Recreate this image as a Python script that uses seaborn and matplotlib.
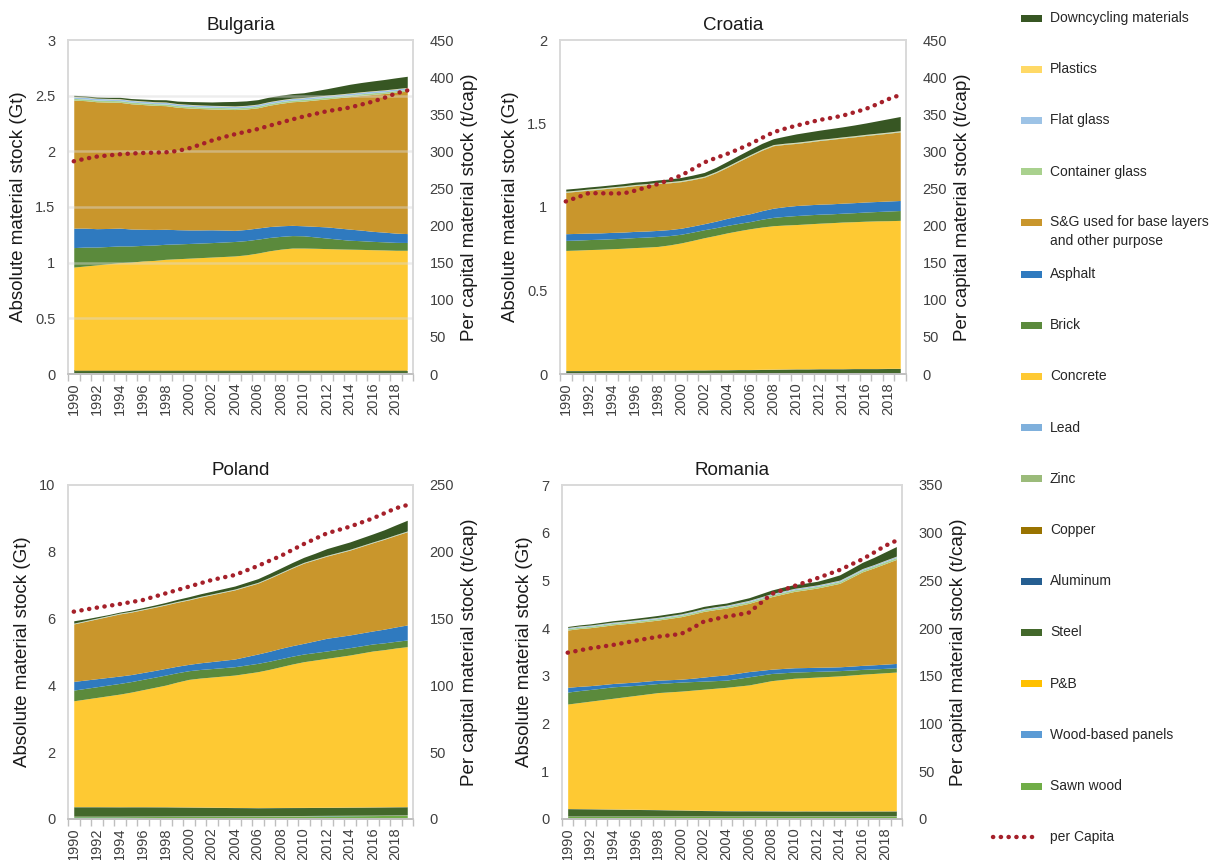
import numpy as np
import pandas as pd
import matplotlib
matplotlib.use("Agg")
import matplotlib.pyplot as plt
from matplotlib.patches import Rectangle
from matplotlib.lines import Line2D
import seaborn as sns

years = list(range(1990, 2020))
year_ticks = list(range(1990, 2020, 2))

layer_names = ["Sawn wood", "Wood-based panels", "P&B", "Steel", "Aluminum", "Copper",
               "Zinc", "Lead", "Concrete", "Brick", "Asphalt",
               "S&G used for base layers\nand other purpose", "Container glass",
               "Flat glass", "Plastics", "Downcycling materials"]
layer_colors = ["#70ad47", "#5b9bd5", "#ffc000", "#43682b", "#255e91", "#997300",
                "#9bbb7a", "#7fb0dc", "#fec933", "#5b8a3c", "#2f7abf",
                "#c9962c", "#a9d18e", "#9dc3e6", "#ffd966", "#375623"]
percap_color = "#a5202a"

# ---------------- Bulgaria (Gt) ----------------
bg_sawn = [0.008,0.008,0.008,0.008,0.008,0.008,0.008,0.008,0.008,0.008,0.008,0.008,0.008,0.008,0.008,0.008,0.009,0.009,0.009,0.009,0.009,0.009,0.009,0.009,0.009,0.009,0.009,0.009,0.009,0.009]
bg_panels = [0.003,0.003,0.003,0.003,0.003,0.003,0.003,0.003,0.003,0.003,0.003,0.003,0.003,0.003,0.003,0.003,0.003,0.003,0.003,0.003,0.003,0.003,0.003,0.003,0.003,0.003,0.003,0.003,0.003,0.003]
bg_pb = [0.002,0.002,0.002,0.002,0.002,0.002,0.002,0.002,0.002,0.002,0.002,0.002,0.002,0.002,0.002,0.002,0.002,0.002,0.002,0.002,0.002,0.002,0.002,0.002,0.002,0.002,0.002,0.002,0.002,0.002]
bg_steel = [0.018,0.018,0.018,0.018,0.018,0.018,0.018,0.018,0.018,0.018,0.018,0.018,0.018,0.018,0.018,0.018,0.017,0.017,0.017,0.017,0.017,0.017,0.017,0.017,0.017,0.017,0.017,0.017,0.017,0.017]
bg_alu = [0.001,0.001,0.001,0.001,0.001,0.001,0.001,0.001,0.001,0.001,0.001,0.001,0.001,0.001,0.001,0.001,0.001,0.001,0.001,0.001,0.001,0.001,0.001,0.001,0.001,0.001,0.001,0.001,0.001,0.001]
bg_copper = [0.0007,0.0007,0.0007,0.0007,0.0007,0.0007,0.0007,0.0007,0.0007,0.0007,0.0007,0.0007,0.0007,0.0007,0.0007,0.0007,0.0007,0.0007,0.0007,0.0007,0.0007,0.0007,0.0007,0.0007,0.0007,0.0007,0.0007,0.0007,0.0007,0.0007]
bg_zinc = [0.0003,0.0003,0.0003,0.0003,0.0003,0.0003,0.0003,0.0003,0.0003,0.0003,0.0003,0.0003,0.0003,0.0003,0.0003,0.0003,0.0003,0.0003,0.0003,0.0003,0.0003,0.0003,0.0003,0.0003,0.0003,0.0003,0.0003,0.0003,0.0003,0.0003]
bg_lead = [0.0003,0.0003,0.0003,0.0003,0.0003,0.0003,0.0003,0.0003,0.0003,0.0003,0.0003,0.0003,0.0003,0.0003,0.0003,0.0003,0.0003,0.0003,0.0003,0.0003,0.0003,0.0003,0.0003,0.0003,0.0003,0.0003,0.0003,0.0003,0.0003,0.0003]
bg_concrete = [0.927,0.937,0.947,0.957,0.967,0.972,0.982,0.987,0.997,1.002,1.007,1.012,1.017,1.022,1.027,1.037,1.053,1.073,1.088,1.098,1.098,1.096,1.093,1.09,1.088,1.086,1.083,1.081,1.078,1.078]
bg_brick = [0.175,0.17,0.16,0.155,0.15,0.145,0.14,0.138,0.135,0.133,0.132,0.131,0.13,0.13,0.13,0.128,0.125,0.12,0.115,0.112,0.11,0.102,0.095,0.088,0.08,0.078,0.075,0.073,0.071,0.07]
bg_asphalt = [0.175,0.17,0.165,0.162,0.16,0.152,0.145,0.14,0.135,0.128,0.122,0.118,0.115,0.108,0.10,0.10,0.10,0.098,0.095,0.092,0.09,0.095,0.10,0.10,0.10,0.095,0.09,0.087,0.083,0.08]
bg_sg = [1.15,1.145,1.14,1.135,1.13,1.125,1.12,1.115,1.11,1.10,1.095,1.09,1.085,1.085,1.085,1.082,1.08,1.09,1.10,1.11,1.12,1.135,1.15,1.17,1.19,1.21,1.23,1.245,1.265,1.28]
bg_cglass = [0.015,0.015,0.015,0.015,0.015,0.015,0.015,0.015,0.015,0.015,0.015,0.015,0.015,0.015,0.015,0.015,0.015,0.015,0.015,0.015,0.015,0.015,0.015,0.015,0.015,0.015,0.015,0.015,0.015,0.015]
bg_fglass = [0.015,0.015,0.015,0.015,0.015,0.015,0.015,0.015,0.015,0.015,0.015,0.015,0.015,0.015,0.015,0.015,0.015,0.015,0.015,0.015,0.015,0.015,0.015,0.015,0.015,0.015,0.015,0.015,0.015,0.015]
bg_plastics = [0.003,0.003,0.003,0.003,0.003,0.003,0.003,0.003,0.003,0.003,0.003,0.003,0.003,0.003,0.003,0.003,0.003,0.003,0.003,0.003,0.003,0.003,0.003,0.003,0.003,0.003,0.003,0.003,0.003,0.003]
bg_downcycling = [0.01,0.01,0.01,0.01,0.012,0.014,0.016,0.018,0.02,0.022,0.025,0.028,0.03,0.035,0.04,0.04,0.04,0.04,0.04,0.04,0.042,0.05,0.058,0.068,0.078,0.083,0.088,0.093,0.097,0.10]
bg_percap = [286.6,290,292.9,294.5,296,297,297.8,298.2,298.7,300.5,304,309,314.5,319,323,326.5,330,334.5,338.7,343,347,350.5,354,356.5,359,363,367,372,378,382]

# ---------------- Croatia (Gt) ----------------
hr_sawn = [0.003,0.003,0.003,0.003,0.003,0.003,0.003,0.003,0.003,0.003,0.003,0.003,0.003,0.003,0.003,0.003,0.003,0.003,0.003,0.003,0.003,0.003,0.003,0.003,0.003,0.003,0.003,0.003,0.003,0.003]
hr_panels = [0.001,0.001,0.001,0.001,0.001,0.001,0.001,0.001,0.001,0.001,0.001,0.001,0.001,0.001,0.001,0.001,0.001,0.001,0.001,0.001,0.001,0.001,0.001,0.001,0.001,0.001,0.001,0.001,0.001,0.001]
hr_pb = [0.001,0.001,0.001,0.001,0.001,0.001,0.001,0.001,0.001,0.001,0.001,0.001,0.001,0.001,0.001,0.001,0.001,0.001,0.001,0.001,0.001,0.001,0.001,0.001,0.001,0.001,0.001,0.001,0.001,0.001]
hr_steel = [0.015,0.015,0.015,0.016,0.016,0.016,0.017,0.017,0.017,0.018,0.018,0.019,0.019,0.02,0.02,0.021,0.021,0.022,0.023,0.024,0.025,0.025,0.026,0.026,0.026,0.027,0.027,0.027,0.028,0.028]
hr_alu = [0.0005,0.0005,0.0005,0.0005,0.0005,0.0005,0.0005,0.0005,0.0005,0.0005,0.0005,0.0005,0.0005,0.0005,0.0005,0.0005,0.0005,0.0005,0.0005,0.0005,0.0005,0.0005,0.0005,0.0005,0.0005,0.0005,0.0005,0.0005,0.0005,0.0005]
hr_copper = [0.0003,0.0003,0.0003,0.0003,0.0003,0.0003,0.0003,0.0003,0.0003,0.0003,0.0003,0.0003,0.0003,0.0003,0.0003,0.0003,0.0003,0.0003,0.0003,0.0003,0.0003,0.0003,0.0003,0.0003,0.0003,0.0003,0.0003,0.0003,0.0003,0.0003]
hr_zinc = [0.0001,0.0001,0.0001,0.0001,0.0001,0.0001,0.0001,0.0001,0.0001,0.0001,0.0001,0.0001,0.0001,0.0001,0.0001,0.0001,0.0001,0.0001,0.0001,0.0001,0.0001,0.0001,0.0001,0.0001,0.0001,0.0001,0.0001,0.0001,0.0001,0.0001]
hr_lead = [0.0001,0.0001,0.0001,0.0001,0.0001,0.0001,0.0001,0.0001,0.0001,0.0001,0.0001,0.0001,0.0001,0.0001,0.0001,0.0001,0.0001,0.0001,0.0001,0.0001,0.0001,0.0001,0.0001,0.0001,0.0001,0.0001,0.0001,0.0001,0.0001,0.0001]
hr_concrete = [0.719,0.721,0.724,0.725,0.728,0.731,0.734,0.737,0.741,0.749,0.761,0.775,0.791,0.804,0.819,0.831,0.843,0.852,0.859,0.862,0.864,0.868,0.871,0.874,0.878,0.879,0.882,0.884,0.884,0.886]
hr_brick = [0.06,0.06,0.06,0.06,0.06,0.06,0.06,0.06,0.06,0.056,0.052,0.05,0.048,0.046,0.045,0.044,0.043,0.047,0.05,0.052,0.054,0.054,0.054,0.053,0.053,0.054,0.055,0.056,0.058,0.059]
hr_asphalt = [0.04,0.04,0.039,0.038,0.038,0.037,0.037,0.036,0.036,0.036,0.036,0.036,0.036,0.039,0.042,0.045,0.047,0.051,0.055,0.058,0.06,0.06,0.06,0.06,0.06,0.06,0.06,0.06,0.06,0.06]
hr_sg = [0.248,0.252,0.257,0.262,0.266,0.27,0.274,0.277,0.28,0.28,0.279,0.278,0.278,0.29,0.306,0.326,0.347,0.362,0.374,0.373,0.372,0.376,0.381,0.386,0.39,0.394,0.398,0.402,0.406,0.411]
hr_cglass = [0.003,0.003,0.003,0.003,0.003,0.003,0.003,0.003,0.003,0.003,0.003,0.003,0.003,0.003,0.003,0.003,0.003,0.003,0.003,0.003,0.003,0.003,0.003,0.003,0.003,0.003,0.003,0.003,0.003,0.003]
hr_fglass = [0.002,0.002,0.002,0.002,0.002,0.002,0.002,0.002,0.002,0.002,0.002,0.002,0.002,0.002,0.002,0.002,0.002,0.002,0.002,0.002,0.002,0.002,0.002,0.002,0.002,0.002,0.002,0.002,0.002,0.002]
hr_plastics = [0.002,0.002,0.002,0.002,0.002,0.002,0.002,0.002,0.002,0.002,0.002,0.002,0.002,0.002,0.002,0.002,0.002,0.002,0.002,0.002,0.002,0.002,0.002,0.002,0.002,0.002,0.002,0.002,0.002,0.002]
hr_downcycling = [0.012,0.012,0.012,0.012,0.012,0.013,0.014,0.014,0.015,0.016,0.018,0.02,0.022,0.025,0.028,0.03,0.032,0.034,0.035,0.042,0.05,0.053,0.055,0.058,0.06,0.064,0.068,0.074,0.08,0.085]
hr_percap = [232.5,238,243.7,243.5,243.3,243.3,247,251.5,256,261.5,267.5,276,285,291,296.6,303,310,318,325.7,330.5,334.7,338.5,342.3,345,348,352.5,357,363.5,370.5,376]

# ---------------- Poland (Gt) ----------------
pl_sawn = [0.07,0.07,0.07,0.07,0.07,0.072,0.073,0.074,0.075,0.076,0.077,0.078,0.079,0.08,0.081,0.082,0.083,0.085,0.087,0.089,0.09,0.092,0.094,0.096,0.098,0.1,0.102,0.105,0.108,0.11]
pl_panels = [0.01,0.01,0.01,0.01,0.01,0.01,0.01,0.01,0.01,0.01,0.01,0.01,0.01,0.01,0.01,0.01,0.01,0.01,0.01,0.01,0.01,0.01,0.01,0.01,0.01,0.01,0.01,0.01,0.01,0.01]
pl_pb = [0.005,0.005,0.005,0.005,0.005,0.005,0.005,0.005,0.005,0.005,0.005,0.005,0.005,0.005,0.005,0.005,0.005,0.005,0.005,0.005,0.005,0.005,0.005,0.005,0.005,0.005,0.005,0.005,0.005,0.005]
pl_steel = [0.28,0.28,0.28,0.279,0.278,0.277,0.276,0.274,0.272,0.268,0.264,0.26,0.255,0.25,0.245,0.242,0.238,0.238,0.238,0.238,0.238,0.238,0.238,0.238,0.239,0.239,0.24,0.24,0.24,0.24]
pl_alu = [0.003,0.003,0.003,0.003,0.003,0.003,0.003,0.003,0.003,0.003,0.003,0.003,0.003,0.003,0.003,0.003,0.003,0.003,0.003,0.003,0.003,0.003,0.003,0.003,0.003,0.003,0.003,0.003,0.003,0.003]
pl_copper = [0.001,0.001,0.001,0.001,0.001,0.001,0.001,0.001,0.001,0.001,0.001,0.001,0.001,0.001,0.001,0.001,0.001,0.001,0.001,0.001,0.001,0.001,0.001,0.001,0.001,0.001,0.001,0.001,0.001,0.001]
pl_zinc = [0.0005,0.0005,0.0005,0.0005,0.0005,0.0005,0.0005,0.0005,0.0005,0.0005,0.0005,0.0005,0.0005,0.0005,0.0005,0.0005,0.0005,0.0005,0.0005,0.0005,0.0005,0.0005,0.0005,0.0005,0.0005,0.0005,0.0005,0.0005,0.0005,0.0005]
pl_lead = [0.0005,0.0005,0.0005,0.0005,0.0005,0.0005,0.0005,0.0005,0.0005,0.0005,0.0005,0.0005,0.0005,0.0005,0.0005,0.0005,0.0005,0.0005,0.0005,0.0005,0.0005,0.0005,0.0005,0.0005,0.0005,0.0005,0.0005,0.0005,0.0005,0.0005]
pl_concrete = [3.17,3.22,3.27,3.321,3.372,3.431,3.501,3.572,3.643,3.736,3.819,3.862,3.896,3.93,3.964,4.016,4.069,4.137,4.215,4.293,4.362,4.41,4.458,4.506,4.553,4.611,4.668,4.705,4.752,4.79]
pl_brick = [0.32,0.32,0.32,0.32,0.32,0.315,0.31,0.305,0.30,0.28,0.26,0.257,0.254,0.252,0.25,0.25,0.25,0.245,0.24,0.235,0.23,0.225,0.22,0.22,0.22,0.215,0.21,0.205,0.2,0.2]
pl_asphalt = [0.26,0.25,0.24,0.23,0.22,0.21,0.205,0.2,0.2,0.195,0.19,0.2,0.21,0.22,0.23,0.255,0.28,0.295,0.31,0.315,0.32,0.35,0.38,0.38,0.38,0.385,0.39,0.41,0.43,0.45]
pl_sg = [1.72,1.755,1.79,1.825,1.86,1.87,1.88,1.89,1.90,1.915,1.93,1.965,2.0,2.035,2.07,2.095,2.12,2.185,2.25,2.325,2.40,2.43,2.46,2.50,2.54,2.59,2.64,2.69,2.74,2.79]
pl_cglass = [0.01,0.01,0.01,0.01,0.01,0.01,0.01,0.01,0.01,0.01,0.01,0.01,0.01,0.01,0.01,0.01,0.01,0.01,0.01,0.01,0.01,0.01,0.01,0.01,0.01,0.01,0.01,0.01,0.01,0.01]
pl_fglass = [0.01,0.01,0.01,0.01,0.01,0.01,0.01,0.01,0.01,0.01,0.01,0.01,0.01,0.01,0.01,0.01,0.01,0.01,0.01,0.01,0.01,0.01,0.01,0.01,0.01,0.01,0.01,0.01,0.01,0.01]
pl_plastics = [0.005,0.005,0.005,0.005,0.005,0.005,0.005,0.005,0.005,0.005,0.005,0.005,0.005,0.005,0.005,0.005,0.005,0.005,0.005,0.005,0.005,0.005,0.005,0.005,0.005,0.005,0.005,0.005,0.005,0.005]
pl_downcycling = [0.07,0.05,0.04,0.03,0.03,0.035,0.04,0.045,0.05,0.06,0.07,0.075,0.08,0.085,0.09,0.1,0.11,0.12,0.13,0.14,0.15,0.17,0.2,0.21,0.22,0.23,0.24,0.26,0.29,0.32]
pl_percap = [155.2,156.7,158.2,159.5,160.9,162.4,163.9,166.4,168.9,171.4,173.9,176.4,178.9,180.8,182.6,186,189.4,193.2,196.9,201.4,205.8,209.8,213.8,216.3,218.8,221.9,225,228.8,232.6,235]

# ---------------- Romania (Gt) ----------------
ro_sawn = [0.055,0.055,0.055,0.055,0.055,0.055,0.055,0.055,0.055,0.055,0.056,0.056,0.056,0.056,0.056,0.056,0.057,0.057,0.057,0.057,0.057,0.058,0.058,0.058,0.058,0.058,0.059,0.059,0.059,0.06]
ro_panels = [0.005,0.005,0.005,0.005,0.005,0.005,0.005,0.005,0.005,0.005,0.005,0.005,0.005,0.005,0.005,0.005,0.005,0.005,0.005,0.005,0.005,0.005,0.005,0.005,0.005,0.005,0.005,0.005,0.005,0.005]
ro_pb = [0.003,0.003,0.003,0.003,0.003,0.003,0.003,0.003,0.003,0.003,0.003,0.003,0.003,0.003,0.003,0.003,0.003,0.003,0.003,0.003,0.003,0.003,0.003,0.003,0.003,0.003,0.003,0.003,0.003,0.003]
ro_steel = [0.153,0.151,0.149,0.146,0.143,0.14,0.137,0.134,0.131,0.127,0.123,0.118,0.113,0.11,0.108,0.107,0.106,0.105,0.104,0.103,0.102,0.102,0.101,0.101,0.100,0.100,0.100,0.100,0.100,0.100]
ro_alu = [0.002,0.002,0.002,0.002,0.002,0.002,0.002,0.002,0.002,0.002,0.002,0.002,0.002,0.002,0.002,0.002,0.002,0.002,0.002,0.002,0.002,0.002,0.002,0.002,0.002,0.002,0.002,0.002,0.002,0.002]
ro_copper = [0.001,0.001,0.001,0.001,0.001,0.001,0.001,0.001,0.001,0.001,0.001,0.001,0.001,0.001,0.001,0.001,0.001,0.001,0.001,0.001,0.001,0.001,0.001,0.001,0.001,0.001,0.001,0.001,0.001,0.001]
ro_zinc = [0.0005,0.0005,0.0005,0.0005,0.0005,0.0005,0.0005,0.0005,0.0005,0.0005,0.0005,0.0005,0.0005,0.0005,0.0005,0.0005,0.0005,0.0005,0.0005,0.0005,0.0005,0.0005,0.0005,0.0005,0.0005,0.0005,0.0005,0.0005,0.0005,0.0005]
ro_lead = [0.0005,0.0005,0.0005,0.0005,0.0005,0.0005,0.0005,0.0005,0.0005,0.0005,0.0005,0.0005,0.0005,0.0005,0.0005,0.0005,0.0005,0.0005,0.0005,0.0005,0.0005,0.0005,0.0005,0.0005,0.0005,0.0005,0.0005,0.0005,0.0005,0.0005]
ro_concrete = [2.19,2.222,2.254,2.287,2.32,2.353,2.386,2.419,2.452,2.471,2.489,2.514,2.539,2.562,2.584,2.61,2.635,2.681,2.727,2.753,2.779,2.79,2.804,2.816,2.83,2.847,2.864,2.879,2.894,2.908]
ro_brick = [0.25,0.25,0.245,0.242,0.24,0.225,0.21,0.2,0.19,0.19,0.19,0.18,0.17,0.16,0.15,0.16,0.17,0.16,0.15,0.14,0.13,0.125,0.12,0.115,0.11,0.105,0.1,0.095,0.092,0.09]
ro_asphalt = [0.10,0.09,0.08,0.075,0.07,0.07,0.07,0.07,0.07,0.065,0.06,0.07,0.085,0.1,0.11,0.11,0.11,0.1,0.09,0.09,0.09,0.087,0.085,0.082,0.08,0.082,0.085,0.087,0.089,0.09]
ro_sg = [1.20,1.21,1.215,1.222,1.23,1.237,1.245,1.252,1.26,1.285,1.31,1.342,1.375,1.388,1.40,1.415,1.43,1.475,1.52,1.56,1.60,1.63,1.66,1.705,1.75,1.855,1.96,2.03,2.105,2.18]
ro_cglass = [0.03,0.03,0.03,0.031,0.031,0.031,0.032,0.032,0.032,0.033,0.033,0.033,0.034,0.034,0.034,0.035,0.035,0.035,0.036,0.036,0.036,0.037,0.037,0.037,0.038,0.038,0.039,0.039,0.04,0.04]
ro_fglass = [0.02,0.02,0.02,0.02,0.02,0.02,0.021,0.021,0.021,0.021,0.021,0.022,0.022,0.022,0.022,0.022,0.023,0.023,0.023,0.023,0.023,0.024,0.024,0.024,0.024,0.024,0.025,0.025,0.025,0.025]
ro_plastics = [0.005,0.005,0.005,0.005,0.005,0.005,0.005,0.005,0.005,0.005,0.005,0.005,0.005,0.005,0.005,0.005,0.005,0.005,0.005,0.005,0.005,0.005,0.005,0.005,0.005,0.005,0.005,0.005,0.005,0.005]
ro_downcycling = [0.02,0.022,0.025,0.028,0.03,0.032,0.035,0.037,0.04,0.04,0.04,0.042,0.045,0.045,0.045,0.05,0.055,0.065,0.075,0.08,0.08,0.075,0.075,0.09,0.11,0.12,0.13,0.15,0.175,0.2]
ro_percap = [174.3,176.6,178.9,180.6,182.4,184.6,186.9,189,191.1,192.5,193.9,200,206.8,209.5,212.1,214,216.3,226,235.8,240,244.2,248.2,252.3,256.6,261,266.6,272.2,279,286.2,291.7]

countries = [
    ("Bulgaria", [bg_sawn, bg_panels, bg_pb, bg_steel, bg_alu, bg_copper, bg_zinc, bg_lead, bg_concrete, bg_brick, bg_asphalt, bg_sg, bg_cglass, bg_fglass, bg_plastics, bg_downcycling], bg_percap, (0, 3), [0, 0.5, 1, 1.5, 2, 2.5, 3], ["0", "0.5", "1", "1.5", "2", "2.5", "3"], (0, 450), list(range(0, 451, 50)), True),
    ("Croatia", [hr_sawn, hr_panels, hr_pb, hr_steel, hr_alu, hr_copper, hr_zinc, hr_lead, hr_concrete, hr_brick, hr_asphalt, hr_sg, hr_cglass, hr_fglass, hr_plastics, hr_downcycling], hr_percap, (0, 2), [0, 0.5, 1, 1.5, 2], ["0", "0.5", "1", "1.5", "2"], (0, 450), list(range(0, 451, 50)), False),
    ("Poland", [pl_sawn, pl_panels, pl_pb, pl_steel, pl_alu, pl_copper, pl_zinc, pl_lead, pl_concrete, pl_brick, pl_asphalt, pl_sg, pl_cglass, pl_fglass, pl_plastics, pl_downcycling], pl_percap, (0, 10), [0, 2, 4, 6, 8, 10], ["0", "2", "4", "6", "8", "10"], (0, 250), list(range(0, 251, 50)), False),
    ("Romania", [ro_sawn, ro_panels, ro_pb, ro_steel, ro_alu, ro_copper, ro_zinc, ro_lead, ro_concrete, ro_brick, ro_asphalt, ro_sg, ro_cglass, ro_fglass, ro_plastics, ro_downcycling], ro_percap, (0, 7), [0, 1, 2, 3, 4, 5, 6, 7], ["0", "1", "2", "3", "4", "5", "6", "7"], (0, 350), list(range(0, 351, 50)), False),
]

sns.set_theme(style="white")
plt.rcParams["font.family"] = ["Liberation Sans", "DejaVu Sans"]

W, H = 1213, 860
fig = plt.figure(figsize=(W / 100, H / 100), dpi=100)
fig.patch.set_facecolor("white")

# axes boxes in pixels: left, top, right, bottom
boxes = [(68, 40, 413, 374), (560, 40, 906, 374), (68, 485, 413, 819), (562, 485, 902, 819)]
spine_c = "#d9d9d9"
tick_c = "#404040"

for (name, layers, percap, ylim, yt, ytl, ylim2, yt2, grid), (l, t, r, b) in zip(countries, boxes):
    ax = fig.add_axes([l / W, 1 - b / H, (r - l) / W, (b - t) / H])
    ax.stackplot(years, *layers, colors=layer_colors, linewidth=0, zorder=2)
    ax.set_xlim(1989.5, 2019.5)
    ax.set_ylim(*ylim)
    ax.set_yticks(yt)
    ax.set_yticklabels(ytl, fontsize=10.5, color=tick_c)
    ax.set_xticks(year_ticks)
    ax.set_xticklabels([str(y) for y in year_ticks], rotation=90, fontsize=10.5, color=tick_c)
    ax.set_xticks([y - 0.5 for y in years] + [2019.5], minor=True)
    ax.tick_params(axis="x", which="major", length=0, pad=6)
    ax.tick_params(axis="x", which="minor", length=5, color="#bfbfbf", width=1, direction="out", bottom=True)
    ax.tick_params(axis="y", length=0, pad=9)
    ax.set_title(name, fontsize=13.5, color="#1a1a1a", pad=7)
    ax.set_ylabel("Absolute material stock (Gt)", fontsize=13.5, color="#1a1a1a", labelpad=6)
    ax.set_xlabel("")
    for s in ax.spines.values():
        s.set_color(spine_c)
        s.set_linewidth(1.2)
    ax.spines["bottom"].set_color("#bfbfbf")
    if grid:
        for v in yt[1:-1]:
            ax.axhline(v, color="#d9d9d9", lw=1.8, alpha=0.45, zorder=3)
    ax.grid(False)

    ax2 = ax.twinx()
    sns.lineplot(x=years, y=percap, ax=ax2, color=percap_color, lw=3.2,
                 linestyle=(0, (0.05, 1.7)), dash_capstyle="round", zorder=5)
    ax2.set_ylim(*ylim2)
    ax2.set_yticks(yt2)
    ax2.set_yticklabels([str(v) for v in yt2], fontsize=10.5, color=tick_c)
    ax2.tick_params(axis="y", length=0, pad=12)
    ax2.set_ylabel("Per capital material stock (t/cap)", fontsize=13.5, color="#1a1a1a", labelpad=5)
    ax2.grid(False)
    for s in ax2.spines.values():
        s.set_color(spine_c)
        s.set_linewidth(1.2)
    ax2.spines["bottom"].set_color("#bfbfbf")

# legend (top to bottom = reverse of stacking order)
leg_names = layer_names[::-1]
leg_colors = layer_colors[::-1]
y0 = 18
step = 51.2
for i, (nm, c) in enumerate(zip(leg_names, leg_colors)):
    yp = y0 + step * i
    fig.add_artist(Rectangle((1021 / W, 1 - (yp + 3.5) / H), 21 / W, 7 / H,
                             transform=fig.transFigure, facecolor=c, edgecolor="none"))
    if "\n" in nm:
        fig.text(1050 / W, 1 - (yp - 8) / H, nm, fontsize=10, color="#262626", va="top",
                 ha="left", linespacing=1.5)
    else:
        fig.text(1050 / W, 1 - yp / H, nm, fontsize=10, color="#262626", va="center", ha="left")
yp = y0 + step * 16
fig.add_artist(Line2D([993 / W, 1035 / W], [1 - yp / H, 1 - yp / H], transform=fig.transFigure,
                      color=percap_color, lw=3.2, linestyle=(0, (0.05, 1.7)), dash_capstyle="round"))
fig.text(1050 / W, 1 - yp / H, "per Capita", fontsize=10, color="#262626", va="center", ha="left")

fig.savefig("out.png", dpi=100, facecolor="white")
